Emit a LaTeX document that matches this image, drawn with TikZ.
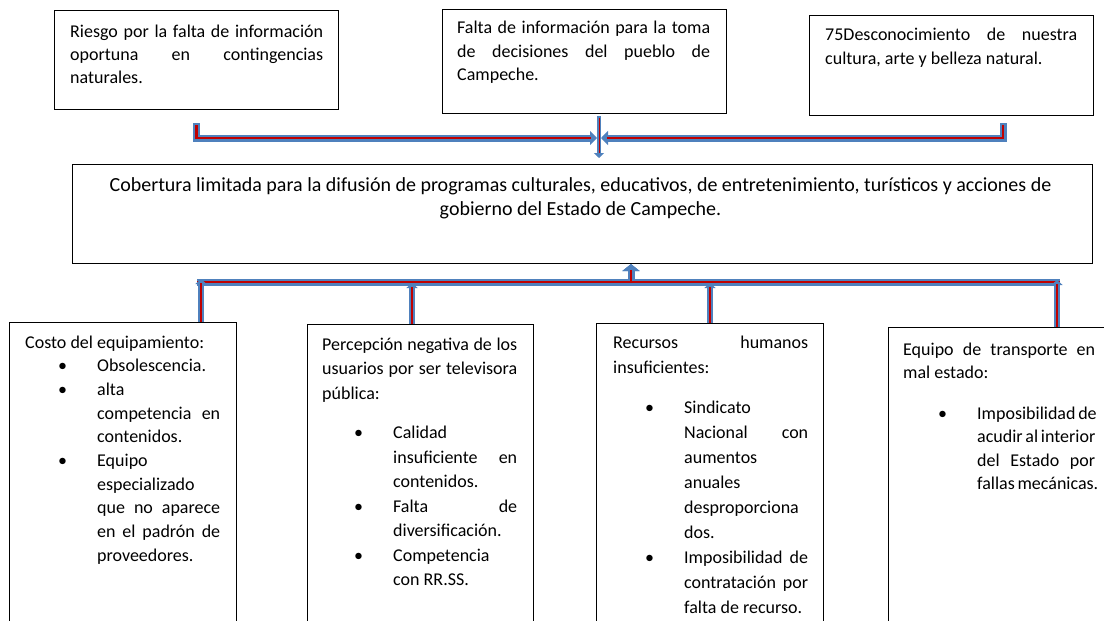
\documentclass[tikz,border=0pt]{standalone}
\usepackage{fontspec}
\setmainfont{Carlito}
\usetikzlibrary{arrows.meta}
\definecolor{cblue}{HTML}{4F81BD}
\definecolor{cred}{HTML}{C00000}
\newlength\xind
\newcommand{\xJ}[1]{\hbox to \linewidth{#1}}
\newcommand{\xLn}[1]{\hbox to \linewidth{#1\hfil}}
\newcommand{\xIB}[1]{\hbox to \linewidth{\hskip\xind\llap{\textbullet\hskip 30pt}#1\hfil}}
\newcommand{\xIBJ}[1]{\hbox to \linewidth{\hskip\xind\llap{\textbullet\hskip 30pt}#1}}
\newcommand{\xIL}[1]{\hbox to \linewidth{\hskip\xind #1\hfil}}
\newcommand{\xIJ}[1]{\hbox to \linewidth{\hskip\xind #1}}
\tikzset{
  box/.style={draw=black, line width=1.2pt, fill=none, anchor=north west, inner sep=0pt},
  txt/.style={anchor=base west, inner sep=0pt},
  pipeO/.style={draw=cblue, line width=7pt},
  pipeI/.style={draw=cred, line width=2.6pt},
  thinO/.style={draw=cblue, line width=5.5pt},
  thinI/.style={draw=cred, line width=1.3pt},
}
\begin{document}
\begin{tikzpicture}[x=1pt, y=-1pt]
\useasboundingbox (0,0) rectangle (1104,621);
\clip (0,0) rectangle (1104,621);
% boxes
\node[box, minimum width=284pt, minimum height=99pt] (b1) at (54,10) {};
\node[box, minimum width=284pt, minimum height=104pt] (b2) at (442,9) {};
\node[box, minimum width=284pt, minimum height=100pt] (b3) at (809,15) {};
\node[box, minimum width=1020pt, minimum height=99pt] (mb) at (72,164) {};
\node[box, minimum width=227pt, minimum height=330pt] (b4) at (9,322) {};
\node[box, minimum width=226pt, minimum height=330pt] (b5) at (307,324) {};
\node[box, minimum width=227pt, minimum height=330pt] (b6) at (596,323) {};
\node[box, minimum width=226pt, minimum height=330pt] (b7) at (888,327) {};
% texts
\node[txt] (t1) at (70,37) {\parbox[t]{253pt}{\fontsize{18}{23.5}\selectfont
  \xJ{Riesgo por la falta de información}
  \xJ{oportuna en contingencias}
  \xLn{naturales.}}};
\node[txt] (t2) at (457,34) {\parbox[t]{253pt}{\fontsize{18}{23.5}\selectfont
  \xJ{Falta de información para la toma}
  \xJ{de decisiones del pueblo de}
  \xLn{Campeche.}}};
\node[txt] (t3) at (825,40.5) {\parbox[t]{252pt}{\fontsize{18}{24}\selectfont
  \xJ{75Desconocimiento de nuestra}
  \xLn{cultura, arte y belleza natural.}}};
\node[txt, anchor=base] (tm) at (580.5,191) {\parbox[t]{1010pt}{\fontsize{20}{24.5}\selectfont
  \hbox to \linewidth{\hss Cobertura limitada para la difusión de programas culturales, educativos, de entretenimiento, turísticos y acciones de\hss}
  \hbox to \linewidth{\hss gobierno del Estado de Campeche.\hss}}};
\node[txt] (t4) at (25,348) {\parbox[t]{195pt}{\fontsize{18}{23.7}\selectfont\setlength\xind{72pt}
  \xLn{Costo del equipamiento:}
  \xIB{Obsolescencia.}
  \xIB{alta}
  \xIJ{competencia en}
  \xIL{contenidos.}
  \xIB{Equipo}
  \xIL{especializado}
  \xIJ{que no aparece}
  \xIJ{en el padrón de}
  \xIL{proveedores.}}};
\node[txt] (t5) at (322,350) {\parbox[t]{195pt}{\fontsize{18}{24.5}\selectfont\setlength\xind{71pt}
  \xJ{Percepción negativa de los}
  \xJ{usuarios por ser televisora}
  \xLn{pública:}
  \vskip 15pt
  \xIB{Calidad}
  \xIJ{insuficiente en}
  \xIL{contenidos.}
  \xIBJ{Falta de}
  \xIL{diversificación.}
  \xIB{Competencia}
  \xIL{con RR.SS.}}};
\node[txt] (t6) at (613,348) {\parbox[t]{195pt}{\fontsize{18}{25}\selectfont\setlength\xind{71pt}
  \xJ{Recursos humanos}
  \xLn{insuficientes:}
  \vskip 15pt
  \xIB{Sindicato}
  \xIJ{Nacional con}
  \xIL{aumentos}
  \xIL{anuales}
  \xIL{desproporciona}
  \xIL{dos.}
  \xIBJ{Imposibilidad de}
  \xIJ{contratación por}
  \xIL{falta de recurso.}}};
\node[txt] (t7) at (903,355) {\parbox[t]{192pt}{\fontsize{18}{23.3}\selectfont\setlength\xind{74pt}
  \xJ{Equipo de transporte en}
  \xLn{mal estado:}
  \vskip 18pt
  \xIBJ{Imposibilidad de}
  \xIJ{acudir al interior}
  \xIJ{del Estado por}
  \xIL{fallas mecánicas.}}};
% top connectors
\coordinate (la) at (196.5,123);
\coordinate (lb) at (597,138);
\coordinate (ra) at (1003,123);
\coordinate (rb) at (601,138);
\coordinate (ca) at (599,116);
\coordinate (cb) at (599,158);
\draw[pipeO, -{Triangle[width=14pt,length=7pt]}] (la) |- (lb);
\draw[pipeI, shorten >=6pt, shorten <=2pt] (la) |- (lb);
\draw[pipeO, -{Triangle[width=14pt,length=7pt]}] (ra) |- (rb);
\draw[pipeI, shorten >=6pt, shorten <=2pt] (ra) |- (rb);
\draw[thinO, line width=4.5pt, -{Triangle[width=10pt,length=5pt]}] (ca) -- (cb);
\draw[thinI, line width=1pt, shorten >=5pt, shorten <=1.5pt] (ca) -- (cb);
% bottom connectors
\coordinate (bl) at (197,282);
\coordinate (br) at (1060,282);
\coordinate (bm) at (631,264);
\draw[pipeO, -{Triangle[width=17pt,length=7pt]}] (bl) -| (bm);
\draw[pipeO, -{Triangle[width=17pt,length=7pt]}] (br) -| (bm);
\draw[pipeI, shorten >=6pt] (bl) -| (bm);
\draw[pipeI, shorten >=6pt] (br) -| (bm);
\coordinate (a4) at (201,279);
\coordinate (a5) at (412,283);
\coordinate (a6) at (710,283);
\coordinate (a7) at (1057,280);
\foreach \a/\b in {a4/b4, a5/b5, a6/b6, a7/b7}{
  \draw[thinO, -{Triangle[width=11pt,length=5pt]}] (\b.north -| \a) -- (\a);
  \draw[thinI, shorten >=4pt] (\b.north -| \a) -- (\a);
}
\end{tikzpicture}
\end{document}
